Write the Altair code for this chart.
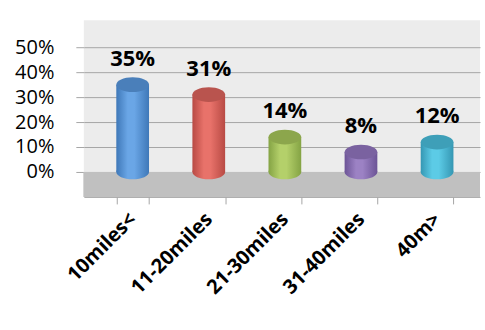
import altair as alt
import pandas as pd

# ---- data ----
categories = ["10miles<", "11-20miles", "21-30miles", "31-40miles", "40m>"]
values = [0.35, 0.31, 0.14, 0.08, 0.12]
labels = ["35%", "31%", "14%", "8%", "12%"]
tick_values = [0, 0.1, 0.2, 0.3, 0.4, 0.5]

# ---- styles ----
body_light = ["#6aa6e6", "#e8726a", "#b4d06a", "#9c82c4", "#5ccbe6"]
body_dark = ["#3f78b8", "#b84a44", "#84a344", "#6c5496", "#3597b3"]
top_cols = ["#4a7fba", "#b9544e", "#8ca64c", "#7a62a0", "#3e9fb8"]
FONT = "Open Sans"
FLOOR_MIN = -0.1
Y_MAX = 0.608
ELLIPSE = ("M -1 0 C -1 -0.2485 -0.5523 -0.45 0 -0.45 C 0.5523 -0.45 1 -0.2485 1 0 "
           "C 1 0.2485 0.5523 0.45 0 0.45 C -0.5523 0.45 -1 0.2485 -1 0 Z")
SYM_SIZE = 1075

df = pd.DataFrame({"cat": categories, "val": values, "lab": labels, "zero": [0.0] * len(values)})

x_enc = alt.X(
    "cat:N",
    sort=categories,
    title=None,
    scale=alt.Scale(paddingInner=0.57, paddingOuter=0.388, align=0.55),
    axis=alt.Axis(
        labelAngle=-45, labelAlign="right", labelBaseline="middle",
        labelFont=FONT, labelFontSize=20, labelFontWeight="bold", labelColor="#000000",
        labelPadding=12, tickBand="extent", tickSize=7, tickColor="#a6a6a6",
        domainColor="#a6a6a6", grid=False, labelOverlap=False,
    ),
)
y_scale = alt.Scale(domain=[FLOOR_MIN, Y_MAX], nice=False, zero=False)
y_axis = alt.Axis(
    values=tick_values, format=".0%",
    labelFont=FONT, labelFontSize=20, labelColor="#000000",
    labelPadding=22, tickSize=8, tickColor="#a6a6a6", domain=False,
    grid=True, gridColor="#a6a6a6", gridWidth=1, labelOverlap=False,
    labelBound=False,
)
y_enc = alt.Y("val:Q", title=None, scale=y_scale, axis=y_axis)
y_zero = alt.Y("zero:Q", title=None, scale=y_scale, axis=y_axis)

base = alt.Chart(df)

floor = base.mark_rect(color="#c0c0c0").encode(
    x=alt.value(0), x2=alt.value("width"),
    y=alt.datum(FLOOR_MIN, scale=y_scale, axis=y_axis, title=None), y2=alt.datum(0),
)

layers = [floor]
for i, c in enumerate(categories):
    grad = alt.Gradient(
        gradient="linear", x1=0, x2=1, y1=0, y2=0,
        stops=[alt.GradientStop(color=body_dark[i], offset=0),
               alt.GradientStop(color=body_light[i], offset=0.35),
               alt.GradientStop(color=body_light[i], offset=0.55),
               alt.GradientStop(color=body_dark[i], offset=1)],
    )
    sub = base.transform_filter(alt.datum.cat == c)
    bottom = sub.mark_point(shape=ELLIPSE, size=SYM_SIZE, filled=True, opacity=1,
                            fill=grad, strokeWidth=0).encode(x=x_enc, y=y_zero)
    body = sub.mark_bar(fill=grad).encode(x=x_enc, y=y_enc, y2="zero:Q")
    top = sub.mark_point(shape=ELLIPSE, size=SYM_SIZE, filled=True, opacity=1,
                         fill=top_cols[i], strokeWidth=0).encode(x=x_enc, y=y_enc)
    layers += [bottom, body, top]

text = base.mark_text(font=FONT, fontSize=22, fontWeight="bold", color="#000000",
                      baseline="bottom", dy=-14).encode(x=x_enc, y=y_enc, text="lab:N")
layers.append(text)

chart = alt.layer(*layers).properties(
    width=397, height=177,
    background="#ffffff",
    padding={"left": 14, "top": 20, "right": 5, "bottom": 5},
).configure_view(fill="#ececec", strokeWidth=0)

chart.save("out.html", embed_options={"renderer": "svg", "actions": False})
